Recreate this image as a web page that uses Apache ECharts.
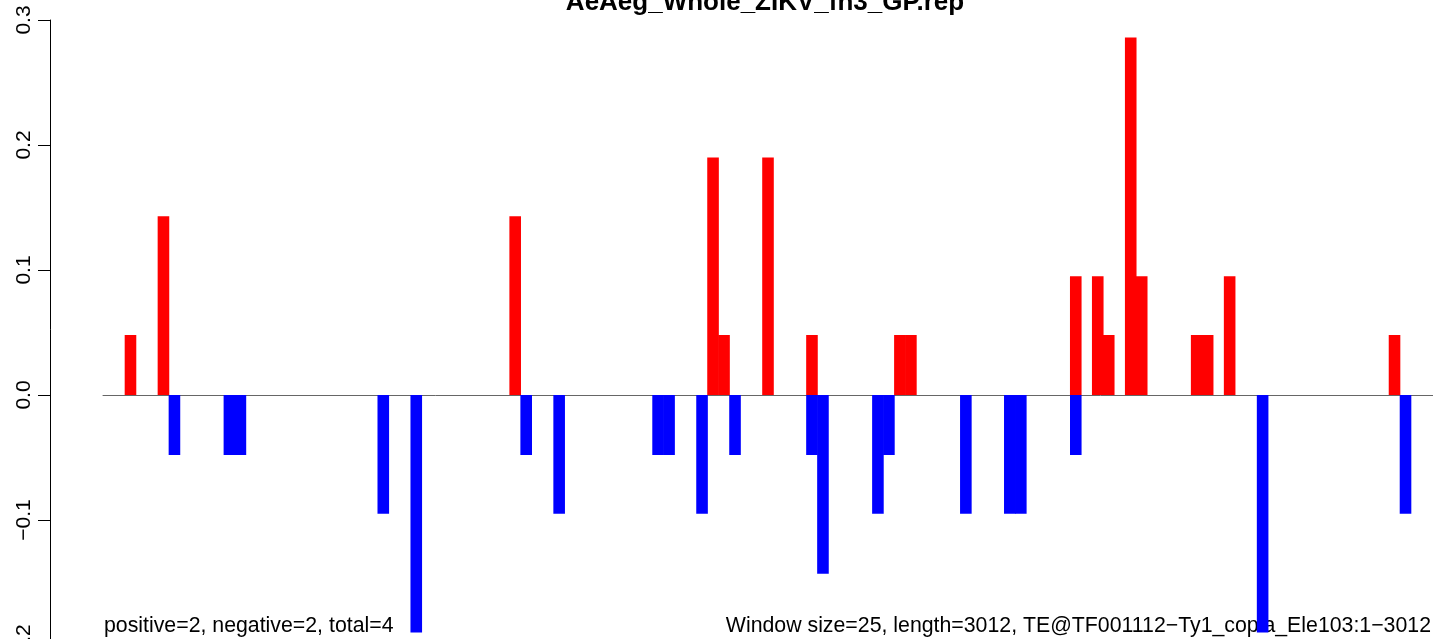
<!DOCTYPE html>
<html>
<head>
<meta charset="utf-8">
<script src="https://cdn.jsdelivr.net/npm/echarts@6/dist/echarts.min.js"></script>
<style>
html,body{margin:0;padding:0;background:#fff;}
#chart{width:1433px;height:639px;}
</style>
</head>
<body>
<div id="chart"></div>
<script>
// ---- data ----
const windowCount = 121; // windows of size 25 over length 3012
const titleText = 'AeAeg_Whole_ZIKV_fn3_GP.rep';
const leftNote = 'positive=2, negative=2, total=4';
const rightNote = 'Window size=25, length=3012, TE@TF001112\u2212Ty1_copia_Ele103:1\u22123012';
const yTicks = [-0.2, -0.1, 0.0, 0.1, 0.2, 0.3];

const posWindows = [2, 5, 37, 55, 56, 60, 64, 72, 73, 88, 90, 91, 93, 94, 99, 100, 102, 117];
const posValues  = [0.048, 0.143, 0.143, 0.190, 0.048, 0.190, 0.048, 0.048, 0.048, 0.095, 0.095, 0.048, 0.286, 0.095, 0.048, 0.048, 0.095, 0.048];

const negWindows = [6, 11, 12, 25, 28, 38, 41, 50, 51, 54, 57, 64, 65, 70, 71, 78, 82, 83, 88, 105, 118];
const negValues  = [-0.048, -0.048, -0.048, -0.095, -0.190, -0.048, -0.095, -0.048, -0.048, -0.095, -0.048, -0.048, -0.143, -0.095, -0.048, -0.095, -0.095, -0.095, -0.048, -0.190, -0.095];

// ---- build full series ----
const cats = [];
for (let i = 0; i < windowCount; i++) cats.push(String(i + 1));
const posData = new Array(windowCount).fill(null);
posWindows.forEach((w, i) => { posData[w] = posValues[i]; });
const negData = new Array(windowCount).fill(null);
negWindows.forEach((w, i) => { negData[w] = negValues[i]; });

const FONT = "'Liberation Sans', Arial, Helvetica, sans-serif";
const chart = echarts.init(document.getElementById('chart'), null, {renderer: 'canvas'});
chart.setOption({
  animation: false,
  backgroundColor: '#ffffff',
  grid: {left: 103, top: 20, width: 1330, height: 625, containLabel: false, outerBoundsMode: 'none'},
  xAxis: {
    type: 'category',
    data: cats,
    boundaryGap: true,
    axisLine: {show: true, onZero: true, lineStyle: {color: '#666666', width: 1}},
    axisTick: {show: false},
    axisLabel: {show: false},
    splitLine: {show: false}
  },
  yAxis: {
    type: 'value',
    min: yTicks[0],
    max: yTicks[yTicks.length - 1],
    interval: 0.1,
    offset: 53,
    axisLine: {show: true, lineStyle: {color: '#000000', width: 1}},
    axisTick: {show: true, length: 12, lineStyle: {color: '#000000', width: 1}},
    splitLine: {show: false},
    axisLabel: {
      rotate: 90,
      margin: 15,
      color: '#000000',
      fontSize: 21,
      fontFamily: FONT,
      formatter: v => (Math.abs(v) < 1e-9 ? '0.0' : v.toFixed(1).replace('-', '\u2212'))
    }
  },
  series: [
    {type: 'bar', name: 'positive', data: posData, barWidth: 11.6, barGap: '-100%',
     itemStyle: {color: '#ff0000'}, z: 2},
    {type: 'bar', name: 'negative', data: negData, barWidth: 11.6, barGap: '-100%',
     itemStyle: {color: '#0000ff'}, z: 2}
  ],
  graphic: [
    {type: 'text', x: 765, y: 3, style: {text: titleText, font: "bold 26px " + FONT, fill: '#000', textAlign: 'center', textVerticalAlign: 'middle'}},
    {type: 'text', x: 104, y: 626, style: {text: leftNote, font: "21.3px " + FONT, fill: '#000', textAlign: 'left', textVerticalAlign: 'middle'}},
    {type: 'text', x: 1431, y: 626, style: {text: rightNote, font: "21.3px " + FONT, fill: '#000', textAlign: 'right', textVerticalAlign: 'middle'}}
  ]
});
</script>
</body>
</html>
